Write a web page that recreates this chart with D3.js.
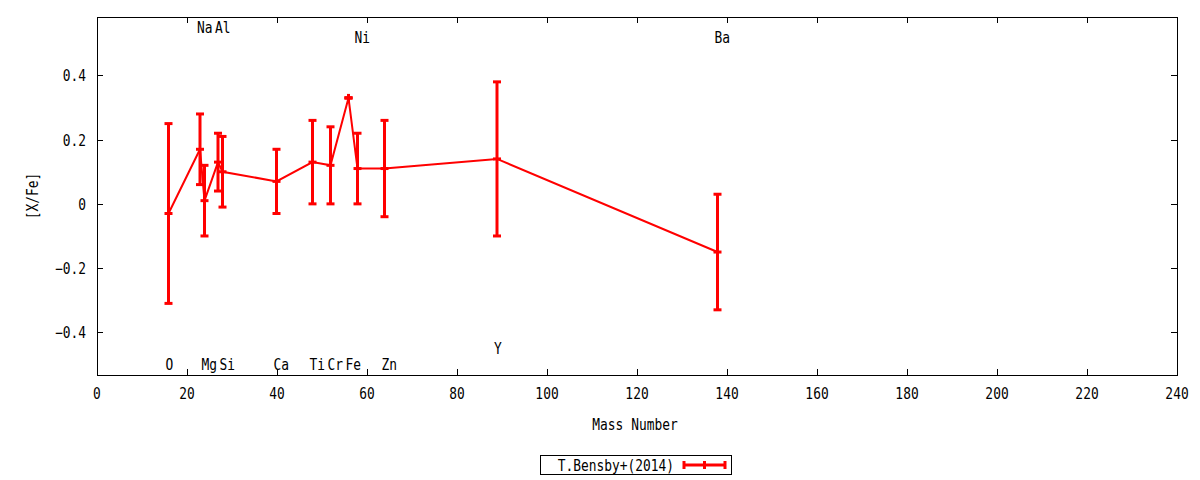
<!DOCTYPE html>
<html>
<head>
<meta charset="utf-8">
<script src="https://cdn.jsdelivr.net/npm/d3@7"></script>
<style>
  body { margin: 0; background: #fff; }
  text { font-family: "DejaVu Sans Mono", monospace; font-size: 15px; fill: #000; }
</style>
</head>
<body>
<div id="graph"></div>
<script>
let W = 1200, H = 480;
let margin = {left: 97, right: 23, top: 17, bottom: 105};

// Bensby et al. 2014 abundances
let elements = ["O", "Na", "Mg", "Al", "Si", "Ca", "Ti", "Cr", "Fe", "Ni", "Zn", "Y", "Ba"];
let mass     = [16, 23, 24, 27, 28, 40, 48, 52, 56, 58, 64, 89, 138];
let xfe      = [-0.03, 0.17, 0.01, 0.13, 0.10, 0.07, 0.13, 0.12, 0.33, 0.11, 0.11, 0.14, -0.15];
let err      = [0.28, 0.11, 0.11, 0.09, 0.11, 0.10, 0.13, 0.12, 0.0, 0.11, 0.15, 0.24, 0.18];
let labelY   = [-0.50, 0.55, -0.50, 0.55, -0.50, -0.50, -0.50, -0.50, -0.50, 0.52, -0.50, -0.45, 0.52];

let xTicks = d3.range(0, 241, 20);
let yTicks = [-0.4, -0.2, 0, 0.2, 0.4];

let svg = d3.select("#graph").append("svg")
  .attr("width", W).attr("height", H);

let x = d3.scaleLinear().domain([0, 240]).range([margin.left, W - margin.right]);
let y = d3.scaleLinear().domain([-0.533, 0.582]).range([H - margin.bottom, margin.top]);

let x0 = x.range()[0], x1 = x.range()[1], y0 = y.range()[0], y1 = y.range()[1];
let tick = 6;
let squeeze = 0.86; // gnuplot font is narrower than DejaVu Sans Mono

function label(px, py, str, anchor, rot) {
  let t = "translate(" + px + "," + py + ")" + (rot ? " rotate(" + rot + ")" : "") + " scale(" + squeeze + ",1)";
  return svg.append("text")
    .attr("transform", t)
    .attr("text-anchor", anchor || "start")
    .text(str);
}

// mirrored inward ticks, gnuplot style
let g = svg.append("g").attr("stroke", "#000").attr("stroke-width", 1);
xTicks.forEach(function(t) {
  let px = Math.round(x(t)) + 0.5;
  g.append("line").attr("x1", px).attr("x2", px).attr("y1", y0).attr("y2", y0 - tick);
  g.append("line").attr("x1", px).attr("x2", px).attr("y1", y1).attr("y2", y1 + tick);
});
yTicks.forEach(function(t) {
  let py = Math.round(y(t)) + 0.5;
  g.append("line").attr("x1", x0).attr("x2", x0 + tick).attr("y1", py).attr("y2", py);
  g.append("line").attr("x1", x1).attr("x2", x1 - tick).attr("y1", py).attr("y2", py);
});

xTicks.forEach(function(t) { label(x(t), y0 + 24, t, "middle"); });
yTicks.forEach(function(t) { label(x0 - 11, y(t) + 6, d3.format("")(t), "end"); });

// element labels
elements.forEach(function(el, i) {
  label(x(mass[i] - 1) + 1, y(labelY[i]) + 6, el, "start");
});

let red = "#ff0000";

// connecting line
let pts = mass.map((m, i) => [m, xfe[i]]);
svg.append("path")
  .attr("d", d3.line().x(d => x(d[0]) - 0.5).y(d => y(d[1]))(pts))
  .attr("fill", "none").attr("stroke", red).attr("stroke-width", 2);

// error bars
let cap = 4;
let eb = svg.append("g").attr("stroke", red).attr("stroke-width", 3);
mass.forEach(function(m, i) {
  let px = x(m) - 0.5;
  let top = y(xfe[i] + err[i]), bot = y(xfe[i] - err[i]), mid = y(xfe[i]);
  eb.append("line").attr("x1", px).attr("x2", px).attr("y1", top).attr("y2", bot);
  [top, bot, mid].forEach(function(py) {
    eb.append("line").attr("x1", px - cap).attr("x2", px + cap).attr("y1", py).attr("y2", py);
  });
  if (err[i] === 0) {
    eb.append("line").attr("x1", px).attr("x2", px).attr("y1", mid - cap).attr("y2", mid + cap);
  }
});

// border
svg.append("rect")
  .attr("x", x0 + 0.5).attr("y", y1 + 0.5)
  .attr("width", x1 - x0).attr("height", y0 - y1)
  .attr("fill", "none").attr("stroke", "#000").attr("stroke-width", 1);

// axis titles
label((x0 + x1) / 2 - 2, 430, "Mass Number", "middle");
label(38, (y0 + y1) / 2, "[X/Fe]", "middle", -90);

// legend
svg.append("rect").attr("x", 540.5).attr("y", 455.5).attr("width", 191).attr("height", 19)
  .attr("fill", "none").attr("stroke", "#000");
label(674, 471, "T.Bensby+(2014)", "end");
let lx0 = 684, lx1 = 725, ly = 465, lm = (lx0 + lx1) / 2;
let lg = svg.append("g").attr("stroke", red).attr("stroke-width", 3);
lg.append("line").attr("x1", lx0).attr("x2", lx1).attr("y1", ly).attr("y2", ly);
[lx0, lm, lx1].forEach(function(px) {
  lg.append("line").attr("x1", px).attr("x2", px).attr("y1", ly - 4).attr("y2", ly + 4);
});
</script>
</body>
</html>
